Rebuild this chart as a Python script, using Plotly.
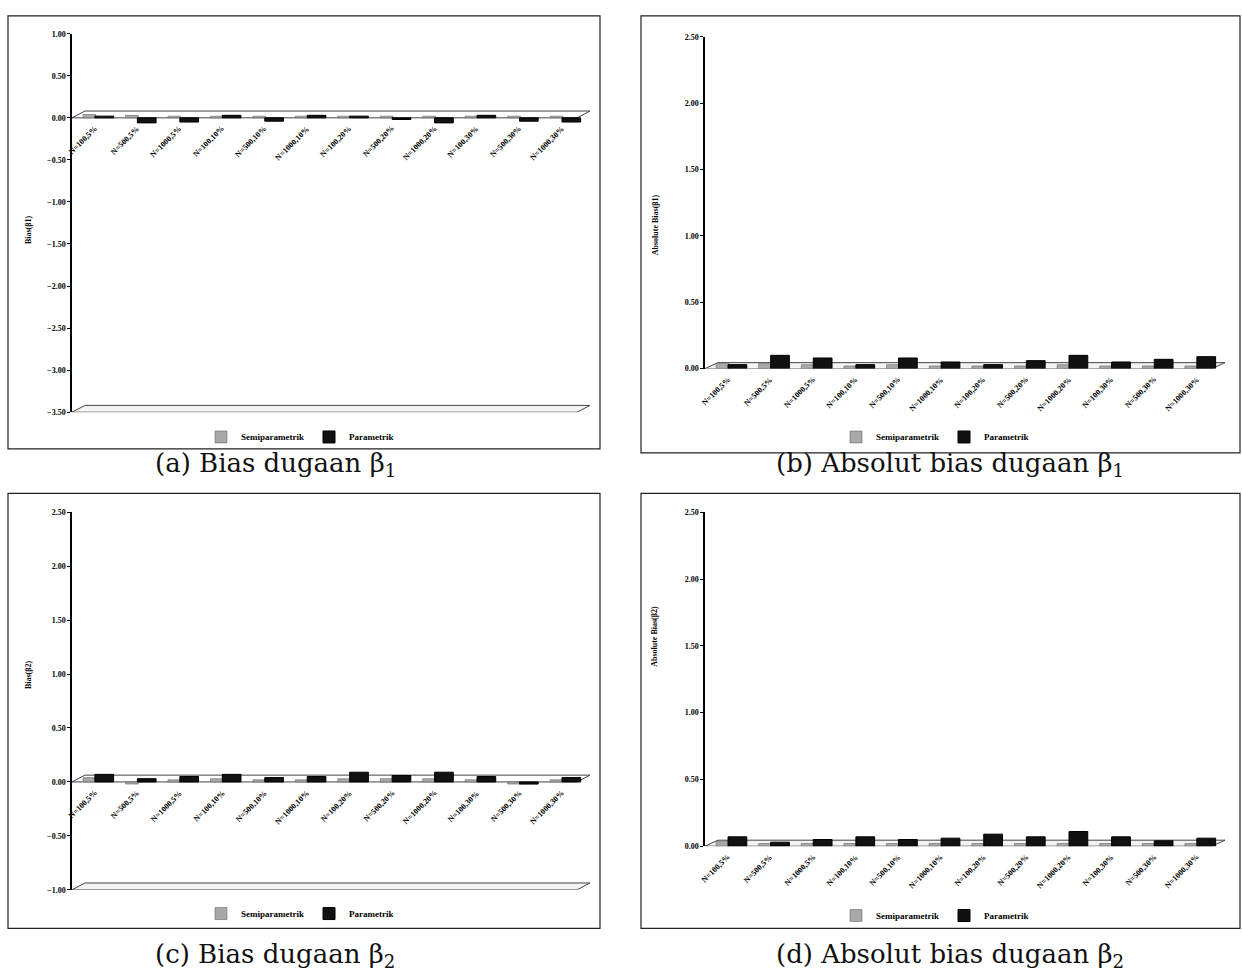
import plotly.graph_objects as go

W, H = 1242, 979

categories = ["N=100,5%", "N=500,5%", "N=1000,5%", "N=100,10%", "N=500,10%", "N=1000,10%",
              "N=100,20%", "N=500,20%", "N=1000,20%", "N=100,30%", "N=500,30%", "N=1000,30%"]

semi_a = [0.04, 0.03, 0.02, 0.02, 0.02, 0.02, 0.02, 0.02, 0.02, 0.02, 0.02, 0.02]
param_a = [0.02, -0.06, -0.05, 0.03, -0.04, 0.03, 0.02, -0.02, -0.06, 0.03, -0.04, -0.05]

semi_b = [0.04, 0.04, 0.03, 0.02, 0.03, 0.02, 0.02, 0.02, 0.03, 0.02, 0.02, 0.02]
param_b = [0.03, 0.10, 0.08, 0.03, 0.08, 0.05, 0.03, 0.06, 0.10, 0.05, 0.07, 0.09]

semi_c = [0.04, -0.02, 0.02, 0.03, 0.02, 0.02, 0.03, 0.03, 0.03, 0.02, -0.02, 0.02]
param_c = [0.07, 0.03, 0.05, 0.07, 0.04, 0.05, 0.09, 0.06, 0.09, 0.05, -0.02, 0.04]

semi_d = [0.04, 0.02, 0.02, 0.02, 0.02, 0.02, 0.02, 0.02, 0.02, 0.02, 0.02, 0.02]
param_d = [0.07, 0.03, 0.05, 0.07, 0.05, 0.06, 0.09, 0.07, 0.11, 0.07, 0.04, 0.06]

panels = [
    dict(semi=semi_a, param=param_a, yr=[-3.5, 1.0], dt=0.5, yt="Bias(β1)",
         cap="(a) Bias dugaan β<sub>1</sub>", box=(72, 590, 30, 412),
         frame=(8, 600, 12, 449), capxy=(275, 465), leg=(300, 437)),
    dict(semi=semi_b, param=param_b, yr=[0.0, 2.5], dt=0.5, yt="Absolute Bias(β1)",
         cap="(b) Absolut bias dugaan β<sub>1</sub>", box=(705, 1225, 33, 368),
         frame=(641, 1240, 12, 453), capxy=(950, 465), leg=(935, 437)),
    dict(semi=semi_c, param=param_c, yr=[-1.0, 2.5], dt=0.5, yt="Bias(β2)",
         cap="(c) Bias dugaan β<sub>2</sub>", box=(72, 590, 513, 894),
         frame=(8, 600, 494, 933), capxy=(275, 960), leg=(300, 918)),
    dict(semi=semi_d, param=param_d, yr=[0.0, 2.5], dt=0.5, yt="Absolute Bias(β2)",
         cap="(d) Absolut bias dugaan β<sub>2</sub>", box=(705, 1225, 513, 850),
         frame=(641, 1240, 494, 933), capxy=(950, 960), leg=(935, 920)),
]

fig = go.Figure()
shapes = []
annotations = []
layout_extra = {}
tickfont = dict(family="Liberation Serif", size=8, color="black", weight="bold")

for i, p in enumerate(panels):
    n = "" if i == 0 else str(i + 1)
    xa, ya = "x" + n, "y" + n
    leg = "legend" + n
    x0, x1, yt_, yb_ = p["box"]
    fig.add_trace(go.Bar(x=categories, y=p["semi"], name="Semiparametrik", marker_color="#a8a8a8",
                         marker_line_color="#555", marker_line_width=0.5,
                         width=0.3, offset=-0.34, xaxis=xa, yaxis=ya, legend=leg))
    fig.add_trace(go.Bar(x=categories, y=p["param"], name="Parametrik", marker_color="#111111",
                         marker_line_color="black", marker_line_width=1,
                         width=0.44, offset=-0.06, xaxis=xa, yaxis=ya, legend=leg))
    layout_extra["xaxis" + n] = dict(domain=[x0 / W, x1 / W], anchor=ya, range=[-0.6, 11.6],
                                     showticklabels=False, showgrid=False, zeroline=False,
                                     showline=False, ticks="", fixedrange=True)
    layout_extra["yaxis" + n] = dict(domain=[1 - yb_ / H, 1 - yt_ / H], anchor=xa, range=p["yr"],
                                     dtick=p["dt"], tickformat=".2f", showgrid=False,
                                     zeroline=False, showline=True, linecolor="black", linewidth=1.5,
                                     ticks="outside", ticklen=3, tickcolor="black",
                                     tickfont=tickfont)
    lx, ly = p["leg"]
    layout_extra[leg] = dict(x=lx / W, y=1 - ly / H, xanchor="center", yanchor="middle",
                             orientation="h",
                             font=dict(family="Liberation Serif", size=9, color="black", weight="bold"),
                             bgcolor="rgba(0,0,0,0)", itemwidth=30, traceorder="normal")
    ymin = p["yr"][0]
    dy = (p["yr"][1] - p["yr"][0]) * 0.018
    shapes.append(dict(type="path", xref=xa + " domain", yref=ya,
                       path=f"M 0,{ymin} L 0.975,{ymin} L 1.0,{ymin + dy} L 0.025,{ymin + dy} Z",
                       line=dict(color="#444", width=1), fillcolor="rgba(235,235,235,0.6)", layer="below"))
    if ymin < 0:
        shapes.append(dict(type="path", xref=xa + " domain", yref=ya,
                           path=f"M 0,0 L 0.975,0 L 1.0,{dy} L 0.025,{dy} Z",
                           line=dict(color="#444", width=1), fillcolor="rgba(0,0,0,0)", layer="below"))
    fx0, fx1, fy0, fy1 = p["frame"]
    shapes.append(dict(type="rect", xref="paper", yref="paper", x0=fx0 / W, x1=fx1 / W,
                       y0=1 - fy1 / H, y1=1 - fy0 / H, line=dict(color="#222", width=1.2)))
    for c in categories:
        annotations.append(dict(x=c, y=0, xref=xa, yref=ya, text=f"<b>{c}</b>", showarrow=False,
                                textangle=-45, xanchor="right", yanchor="top", xshift=4, yshift=-4,
                                font=dict(family="Liberation Serif", size=8, color="black")))
    annotations.append(dict(x=(x0 - 50) / W, y=1 - ((yt_ + yb_) / 2 - 10) / H, xref="paper", yref="paper",
                            text=f"<b>{p['yt']}</b>", textangle=-90, showarrow=False,
                            font=dict(family="Liberation Serif", size=8, color="black")))
    cx, cy = p["capxy"]
    annotations.append(dict(x=cx / W, y=1 - cy / H, xref="paper", yref="paper", text=p["cap"],
                            showarrow=False, xanchor="center", yanchor="middle",
                            font=dict(family="DejaVu Serif", size=26, color="#111")))

fig.update_layout(width=W, height=H, margin=dict(l=0, r=0, t=0, b=0),
                  paper_bgcolor="white", plot_bgcolor="white", barmode="overlay",
                  shapes=shapes, annotations=annotations, **layout_extra)

fig.write_html("out.html")
